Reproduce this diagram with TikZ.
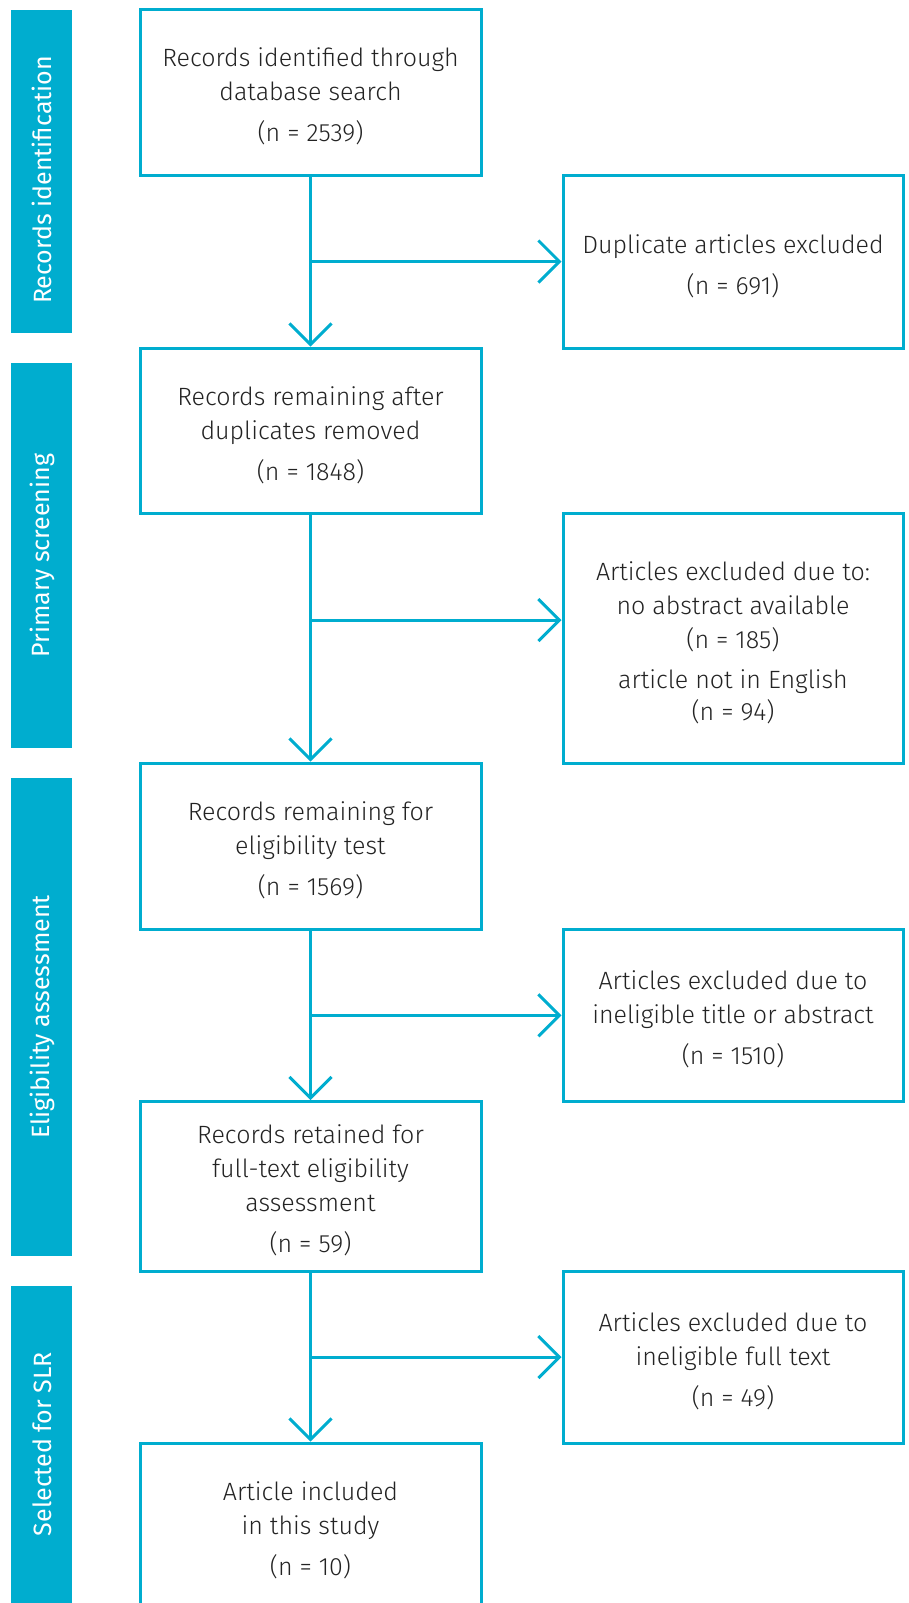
\documentclass[tikz,border=0pt]{standalone}
\usepackage{fontspec}
\setmainfont{Fira Sans Light}
\newfontfamily\barfont{Fira Sans}
\usetikzlibrary{arrows.meta}

\definecolor{prismablue}{RGB}{0,173,207}
\definecolor{prismatext}{RGB}{35,35,35}

% pushes the text of a box a little lower
\newcommand{\padtop}{\rule{0pt}{13.8pt}}

\begin{document}
\begin{tikzpicture}[x=0.5pt,y=-0.5pt,
	box/.style={draw=prismablue, line width=1.5pt, minimum width=170.5pt, inner sep=0pt, align=center, text=prismatext, font=\fontsize{12.5}{17}\selectfont},
	sidebox/.style={box, minimum width=170pt},
	phase/.style={fill=prismablue},
	phasetext/.style={rotate=90, text=white, inner sep=0pt, font=\barfont\fontsize{12.5}{15}\selectfont},
	flow/.style={draw=prismablue, line width=1.5pt, -{Straight Barb[length=10.5pt,width=21pt]}}]

	\useasboundingbox (0,0) rectangle (909,1603);
	\clip (0,0) rectangle (909,1603);

	% phase bars on the left
	\fill[phase] (11,10) rectangle (72,333);
	\fill[phase] (11,363) rectangle (72,748);
	\fill[phase] (11,778) rectangle (72,1256);
	\fill[phase] (11,1286) rectangle (72,1615);

	\node[phasetext] (ph1) at (42,180) {Records identification};
	\node[phasetext] (ph2) at (42,555.5) {Primary screening};
	\node[phasetext] (ph3) at (42,1017) {Eligibility assessment};
	\node[phasetext] (ph4) at (42,1444) {Selected for SLR};

	% main column
	\node[box, minimum height=82.75pt] (b1) at (310.5,92.25)
		{\padtop Records identified through\\database search\\[3.5pt](n = 2539)};
	\node[box, minimum height=82.5pt] (b2) at (310.5,430.5)
		{\padtop Records remaining after\\duplicates removed\\[3.5pt](n = 1848)};
	\node[box, minimum height=83pt] (b3) at (310.5,846)
		{\padtop Records remaining for\\eligibility test\\[3.5pt](n = 1569)};
	\node[box, minimum height=84.75pt] (b4) at (310.5,1186.25)
		{\padtop Records retained for\\full-text eligibility\\assessment\\[3.5pt](n = 59)};
	\node[box, minimum height=83pt] (b5) at (310.5,1526)
		{\padtop Article included\\in this study\\[3.5pt](n = 10)};

	% exclusions
	\node[sidebox, minimum height=86.5pt] (r1) at (733,261.5)
		{\padtop Duplicate articles excluded\\[3.5pt](n = 691)};
	\node[sidebox, minimum height=125pt] (r2) at (733,638)
		{\padtop Articles excluded due to:\\no abstract available\\(n = 185)\\[3pt]article not in English\\[-1pt](n = 94)};
	\node[sidebox, minimum height=86.25pt] (r3) at (733,1015.25)
		{\padtop Articles excluded due to\\ineligible title or abstract\\[3.5pt](n = 1510)};
	\node[sidebox, minimum height=86pt] (r4) at (733,1357)
		{\padtop Articles excluded due to\\ineligible full text\\[3.5pt](n = 49)};

	\coordinate (r2in) at ([yshift=9pt]r2.west);

	% arrows
	\draw[flow] (b1) -- (b2);
	\draw[flow] (b2) -- (b3);
	\draw[flow] (b3) -- (b4);
	\draw[flow] (b4) -- (b5);

	\draw[flow] (b1.south |- r1.west) -- (r1.west);
	\draw[flow] (b2.south |- r2in) -- (r2in);
	\draw[flow] (b3.south |- r3.west) -- (r3.west);
	\draw[flow] (b4.south |- r4.west) -- (r4.west);

\end{tikzpicture}
\end{document}
